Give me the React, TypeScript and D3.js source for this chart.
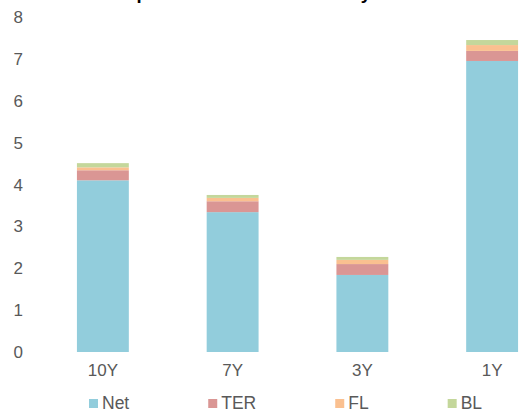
import React, { useEffect, useRef } from "react";
import * as d3 from "d3";

const categories = ["10Y", "7Y", "3Y", "1Y"];
const seriesNames = ["Net", "TER", "FL", "BL"];
const netValues = [4.1, 3.34, 1.84, 6.95];
const terValues = [0.24, 0.26, 0.26, 0.24];
const flValues = [0.07, 0.08, 0.1, 0.14];
const blValues = [0.1, 0.07, 0.07, 0.12];
const yTicks = [0, 1, 2, 3, 4, 5, 6, 7, 8];
const titleText = "Components of total returns by horizon";

const colors = ["#92cddc", "#da9694", "#fac090", "#c4d79b"];

export default function App() {
  const ref = useRef<SVGSVGElement | null>(null);

  useEffect(() => {
    const svg = d3.select(ref.current);
    svg.selectAll("*").remove();

    const x = d3.scaleBand<string>().domain(categories).range([38, 557]).paddingInner(0.6).paddingOuter(0.3);
    const y = d3.scaleLinear().domain([0, 8]).range([352, 17]);

    const rows = categories.map((c, i) => ({
      cat: c,
      Net: netValues[i],
      TER: terValues[i],
      FL: flValues[i],
      BL: blValues[i],
    }));
    const stacked = d3.stack<any>().keys(seriesNames)(rows);

    // title (mostly clipped above the top edge)
    svg.append("text")
      .attr("x", 95.5)
      .attr("y", -1)
      .attr("font-family", "Liberation Sans, Arial, sans-serif")
      .attr("font-weight", "bold")
      .attr("font-size", 18.5)
      .attr("fill", "#000")
      .text(titleText);

    // bars
    stacked.forEach((s, si) => {
      svg.append("g")
        .selectAll("rect")
        .data(s)
        .join("rect")
        .attr("x", (d: any) => x(d.data.cat) as number)
        .attr("width", x.bandwidth())
        .attr("y", (d: any) => y(d[1]))
        .attr("height", (d: any) => y(d[0]) - y(d[1]))
        .attr("fill", colors[si]);
    });

    // y tick labels
    svg.append("g")
      .selectAll("text")
      .data(yTicks)
      .join("text")
      .attr("x", 23)
      .attr("y", (d) => y(d))
      .attr("dy", "0.36em")
      .attr("text-anchor", "end")
      .attr("font-family", "Liberation Sans, Arial, sans-serif")
      .attr("font-size", 17)
      .attr("fill", "#595959")
      .text((d) => String(d));

    // x category labels
    svg.append("g")
      .selectAll("text")
      .data(categories)
      .join("text")
      .attr("x", (d) => (x(d) as number) + x.bandwidth() / 2)
      .attr("y", 376)
      .attr("text-anchor", "middle")
      .attr("font-family", "Liberation Sans, Arial, sans-serif")
      .attr("font-size", 17)
      .attr("fill", "#595959")
      .text((d) => d);

    // legend
    const lg = svg.append("g");
    let cx = 89;
    seriesNames.forEach((name, i) => {
      lg.append("rect")
        .attr("x", cx)
        .attr("y", 399)
        .attr("width", 9)
        .attr("height", 9)
        .attr("fill", colors[i]);
      const t = lg.append("text")
        .attr("x", cx + 13)
        .attr("y", 409)
        .attr("font-family", "Liberation Sans, Arial, sans-serif")
        .attr("font-size", 17.5)
        .attr("fill", "#595959")
        .text(name);
      const w = (t.node() as SVGTextElement).getComputedTextLength();
      cx = cx + 13 + w + 79;
    });
  }, []);

  return (
    <svg
      ref={ref}
      width={520}
      height={414}
      style={{ position: "absolute", left: 0, top: 0, display: "block", background: "#fff" }}
    />
  );
}
